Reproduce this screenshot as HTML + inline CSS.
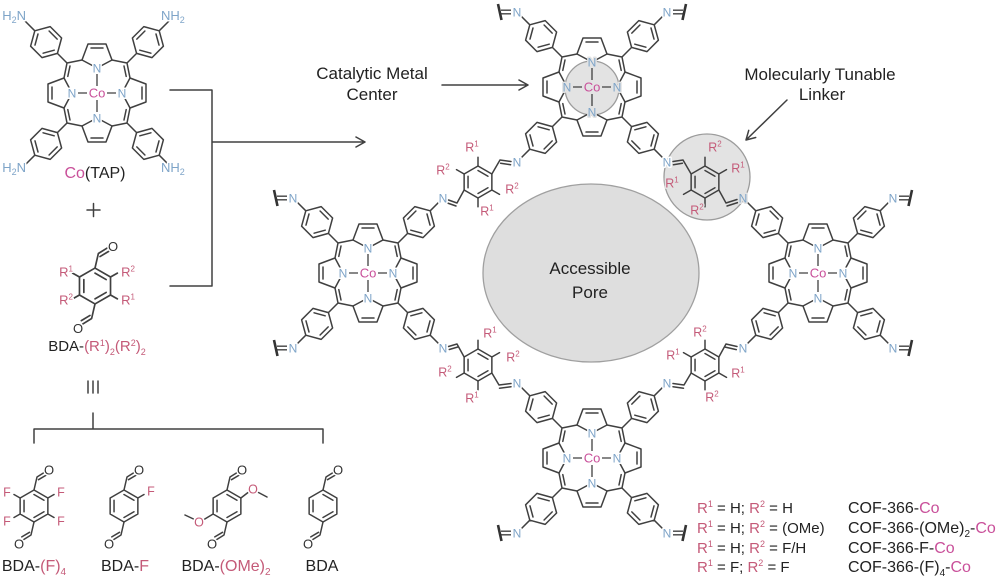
<!DOCTYPE html>
<html><head><meta charset="utf-8">
<style>
html,body{margin:0;padding:0;background:#fff;}
svg{display:block;}
text{font-family:"Liberation Sans",Arial,sans-serif;}
.b{fill:none;stroke:#404040;stroke-width:1.5;stroke-linejoin:round;stroke-linecap:round;}
.n{font-size:12px;fill:#7ea4c8;text-anchor:middle;stroke:#fff;stroke-width:3px;paint-order:stroke;stroke-linejoin:round;}
.co{font-size:13px;fill:#c9509a;text-anchor:middle;stroke:#fff;stroke-width:3px;paint-order:stroke;stroke-linejoin:round;}
.r{font-size:12.5px;fill:#c45a78;text-anchor:middle;stroke:#fff;stroke-width:3px;paint-order:stroke;stroke-linejoin:round;}
.o{font-size:13px;fill:#333;text-anchor:middle;stroke:#fff;stroke-width:3px;paint-order:stroke;stroke-linejoin:round;}
.f{font-size:12.5px;fill:#c45a78;text-anchor:middle;stroke:#fff;stroke-width:3px;paint-order:stroke;stroke-linejoin:round;}
.g{stroke:#e3e3e3;}
.t{font-size:17px;fill:#222;text-anchor:middle;}
.lb{font-size:16px;fill:#222;text-anchor:middle;}
.lg{font-size:15px;fill:#222;}
.lg2{font-size:16px;fill:#222;}
.pk{fill:#c45a78;}
.mg{fill:#c9509a;}
</style></head><body>
<svg width="1000" height="580" viewBox="0 0 1000 580" xmlns="http://www.w3.org/2000/svg">
<defs>
<g id="pyr"><path fill="none" stroke="#404040" stroke-width="1.5" stroke-linejoin="round" stroke-linecap="round" d="M0,-25 L-15,-33 L-9,-49 L9,-49 L15,-33 Z M-6,-45 L6,-45"/></g>
<g id="q"><path fill="none" stroke="#404040" stroke-width="1.5" stroke-linejoin="round" stroke-linecap="round" d="M-15,-33 L-30,-30 L-33,-15 M-27,-27 L-29.2,-16.6 M-30,-30 L-39.6,-39.6 M-62.2,-62.2 L-46.8,-66.4 L-35.4,-55 L-39.6,-39.6 L-55,-35.4 L-66.4,-46.8 Z M-47.9,-62 L-39.8,-53.9 M-42.8,-42.8 L-53.9,-39.8 M-62,-47.9 L-59,-59 M-62.2,-62.2 L-72,-72"/></g>
<g id="por">
<use href="#pyr"/><use href="#pyr" transform="rotate(90)"/><use href="#pyr" transform="rotate(180)"/><use href="#pyr" transform="rotate(270)"/>
<use href="#q"/><use href="#q" transform="scale(-1,1)"/><use href="#q" transform="scale(1,-1)"/><use href="#q" transform="scale(-1,-1)"/>
<path fill="none" stroke="#404040" stroke-width="1.3" d="M0,-19 L0,-7 M0,7 L0,19 M-19,0 L-10,0 M10,0 L19,0"/>
</g>
<g id="ring"><path fill="none" stroke="#404040" stroke-width="1.5" stroke-linejoin="round" stroke-linecap="round" d="M0,-16 L13.86,-8 L13.86,8 L0,16 L-13.86,8 L-13.86,-8 Z M0,-11.5 L9.96,-5.75 M9.96,5.75 L0,11.5 M-9.96,5.75 L-9.96,-5.75"/></g>
<g id="bda"><use href="#ring"/><path fill="none" stroke="#404040" stroke-width="1.5" stroke-linejoin="round" stroke-linecap="round" d="M0,-16 L3,-29 L11,-34 M4.5,-26.3 L12.2,-30.9 M0,16 L-3,29 L-11,34 M-4.5,26.3 L-12.2,30.9"/></g>
<g id="tl"><path fill="none" stroke="#404040" stroke-width="1.4" d="M-6,-1.8 L-16,-1.8 M-6,1.8 L-16,1.8"/><path fill="none" stroke="#333" stroke-width="2.6" d="M-19,-8 L-15.5,8"/></g>
</defs>

<!-- grey regions -->
<ellipse cx="591" cy="273" rx="108" ry="89" fill="#dedede" stroke="#a0a0a0" stroke-width="1.3"/>
<circle cx="592" cy="88" r="27" fill="#e3e3e3" stroke="#9c9c9c" stroke-width="1.3"/>
<circle cx="707" cy="177" r="43" fill="#e3e3e3" stroke="#9c9c9c" stroke-width="1.3"/>
<text class="t" x="590" y="274">Accessible</text>
<text class="t" x="590" y="298">Pore</text>

<!-- Co(TAP) -->
<use href="#por" transform="translate(97,93)"/>
<g transform="translate(97,93)">
<text class="n" x="0" y="-20.7">N</text><text class="n" x="0" y="29.3">N</text><text class="n" x="-25" y="4.3">N</text><text class="n" x="25" y="4.3">N</text><text class="co" x="0" y="4.6">Co</text>
</g>
<text class="n" x="26" y="20" style="text-anchor:end;font-size:13px">H<tspan font-size="9" dy="3">2</tspan><tspan dy="-3">N</tspan></text>
<text class="n" x="161" y="20" style="text-anchor:start;font-size:13px">NH<tspan font-size="9" dy="3">2</tspan></text>
<text class="n" x="26" y="172" style="text-anchor:end;font-size:13px">H<tspan font-size="9" dy="3">2</tspan><tspan dy="-3">N</tspan></text>
<text class="n" x="161" y="172" style="text-anchor:start;font-size:13px">NH<tspan font-size="9" dy="3">2</tspan></text>
<text class="lb" x="95" y="178"><tspan class="mg">Co</tspan>(TAP)</text>

<!-- bracket and arrows left -->
<path class="b" d="M170,90 L212,90 L212,286 L170,286 M212,142 L365,142 M356,137 L365,142 L356,147"/>
<path class="b" d="M87,210 L100,210 M93.5,203.5 L93.5,216.5"/>

<!-- BDA-(R1)2(R2)2 -->
<use href="#bda" transform="translate(95,286) scale(1.12)"/>
<path class="b" transform="translate(95,286) scale(1.12)" d="M-13.86,-8 L-20,-11.5 M13.86,-8 L20,-11.5 M-13.86,8 L-20,11.5 M13.86,8 L20,11.5"/>
<text class="o" x="113" y="251">O</text>
<text class="o" x="78" y="333">O</text>
<text class="r" x="66" y="276.5" style="font-size:13px">R<tspan font-size="8" dy="-5">1</tspan></text>
<text class="r" x="128" y="276.5" style="font-size:13px">R<tspan font-size="8" dy="-5">2</tspan></text>
<text class="r" x="66" y="304.5" style="font-size:13px">R<tspan font-size="8" dy="-5">2</tspan></text>
<text class="r" x="128" y="304.5" style="font-size:13px">R<tspan font-size="8" dy="-5">1</tspan></text>
<text class="lb" x="97" y="351" style="font-size:15px">BDA-<tspan class="pk">(R<tspan font-size="9" dy="-5">1</tspan><tspan dy="5">)</tspan><tspan font-size="9" dy="4">2</tspan><tspan dy="-4">(R</tspan><tspan font-size="9" dy="-5">2</tspan><tspan dy="5">)</tspan><tspan font-size="9" dy="4">2</tspan></tspan></text>
<path class="b" d="M88,381 L88,393 M93,381 L93,393 M98,381 L98,393"/>
<path class="b" d="M93,413 L93,429 M34,443 L34,429 L323,429 L323,443"/>

<!-- bottom BDAs -->
<use href="#bda" transform="translate(34,506)"/>
<path class="b" transform="translate(34,506)" d="M-13.86,-8 L-20,-11.5 M13.86,-8 L20,-11.5 M-13.86,8 L-20,11.5 M13.86,8 L20,11.5"/>
<text class="o" x="49" y="474.5">O</text><text class="o" x="19" y="548.5">O</text>
<text class="f" x="7" y="496.5">F</text><text class="f" x="61" y="496.5">F</text><text class="f" x="7" y="525.5">F</text><text class="f" x="61" y="525.5">F</text>
<text class="lb" x="34" y="571">BDA-<tspan class="pk">(F)</tspan><tspan class="pk" font-size="10" dy="4">4</tspan></text>

<use href="#bda" transform="translate(124,506)"/>
<path class="b" transform="translate(124,506)" d="M13.86,-8 L20,-11.5"/>
<text class="o" x="139" y="474.5">O</text><text class="o" x="109" y="548.5">O</text>
<text class="f" x="151" y="495.5">F</text>
<text class="lb" x="125" y="571">BDA-<tspan class="pk">F</tspan></text>

<use href="#bda" transform="translate(227,506)"/>
<path class="b" d="M240.9,498 L248,492.5 M258.5,492.5 L267,497 M213.1,514 L204,519.5 M193.5,519 L185,515"/>
<text class="o" x="242" y="474.5">O</text><text class="o" x="212" y="548.5">O</text>
<text class="f" x="253" y="493.5">O</text><text class="f" x="199" y="526.5">O</text>
<text class="lb" x="226" y="571">BDA-<tspan class="pk">(OMe)</tspan><tspan class="pk" font-size="10" dy="4">2</tspan></text>

<use href="#bda" transform="translate(323,506)"/>
<text class="o" x="338" y="474.5">O</text><text class="o" x="308" y="548.5">O</text>
<text class="lb" x="322" y="571">BDA</text>

<!-- annotations -->
<text class="t" x="372" y="79">Catalytic Metal</text>
<text class="t" x="372" y="100">Center</text>
<path class="b" d="M442,85 L528,85 M519,80 L528,85 L519,90"/>
<text class="t" x="820" y="80">Molecularly Tunable</text>
<text class="t" x="822" y="100">Linker</text>
<path class="b" d="M787,100 L746,140 M755.7,137.5 L746,140 L748.7,130.4"/>

<!-- Framework porphyrins -->
<use href="#por" transform="translate(592,87)"/>
<g transform="translate(592,87)">
<text class="n g" x="0" y="-20.7">N</text><text class="n g" x="0" y="29.3">N</text><text class="n g" x="-25" y="4.3">N</text><text class="n g" x="25" y="4.3">N</text><text class="co g" x="0" y="4.6">Co</text>
</g>
<use href="#por" transform="translate(368,273)"/>
<g transform="translate(368,273)">
<text class="n" x="0" y="-20.7">N</text><text class="n" x="0" y="29.3">N</text><text class="n" x="-25" y="4.3">N</text><text class="n" x="25" y="4.3">N</text><text class="co" x="0" y="4.6">Co</text>
</g>
<use href="#por" transform="translate(818,273)"/>
<g transform="translate(818,273)">
<text class="n" x="0" y="-20.7">N</text><text class="n" x="0" y="29.3">N</text><text class="n" x="-25" y="4.3">N</text><text class="n" x="25" y="4.3">N</text><text class="co" x="0" y="4.6">Co</text>
</g>
<use href="#por" transform="translate(592,458)"/>
<g transform="translate(592,458)">
<text class="n" x="0" y="-20.7">N</text><text class="n" x="0" y="29.3">N</text><text class="n" x="-25" y="4.3">N</text><text class="n" x="25" y="4.3">N</text><text class="co" x="0" y="4.6">Co</text>
</g>

<!-- terminals -->
<use href="#tl" transform="translate(517,12)"/>
<use href="#tl" transform="translate(667,12) scale(-1,1)"/>
<use href="#tl" transform="translate(293,198)"/>
<use href="#tl" transform="translate(293,348)"/>
<use href="#tl" transform="translate(893,198) scale(-1,1)"/>
<use href="#tl" transform="translate(893,348) scale(-1,1)"/>
<use href="#tl" transform="translate(517,533)"/>
<use href="#tl" transform="translate(667,533) scale(-1,1)"/>

<!-- Linker L1 -->
<g transform="translate(478,182)">
<use href="#ring"/>
<path class="b" d="M0,-16 L0,-24.8 M-13.86,-8 L-21.5,-12.4 M13.86,8 L21.5,12.4 M0,16 L0,24.8 M13.86,-8 L22,-22 M22,-22 L33,-20.5 M22.6,-18.8 L32.6,-17.3 M-13.86,8 L-21,21 M-21,21 L-29.5,18 M-22,24 L-30.6,21"/>
<text class="r" x="-6" y="-30.5">R<tspan font-size="8" dy="-5">1</tspan></text>
<text class="r" x="-35" y="-7.5">R<tspan font-size="8" dy="-5">2</tspan></text>
<text class="r" x="34" y="11.5">R<tspan font-size="8" dy="-5">2</tspan></text>
<text class="r" x="9" y="33.5">R<tspan font-size="8" dy="-5">1</tspan></text>
</g>
<!-- Linker L2 -->
<g transform="translate(705,182)">
<use href="#ring"/>
<path class="b" d="M0,-16 L0,-24.8 M13.86,-8 L21.5,-12.4 M-13.86,8 L-21.5,12.4 M0,16 L0,24.8 M-13.86,-8 L-22,-22 M-22,-22 L-32,-20.5 M-22.6,-18.8 L-31.6,-17.3 M13.86,8 L21,21 M21,21 L32,17.5 M22,24 L32.6,20.6"/>
<text class="r g" x="10" y="-30.5">R<tspan font-size="8" dy="-5">2</tspan></text>
<text class="r g" x="33" y="-9.5">R<tspan font-size="8" dy="-5">1</tspan></text>
<text class="r g" x="-33" y="5.5">R<tspan font-size="8" dy="-5">1</tspan></text>
<text class="r g" x="-8" y="32.5">R<tspan font-size="8" dy="-5">2</tspan></text>
</g>
<!-- Linker L3 -->
<g transform="translate(478,365)">
<use href="#ring"/>
<path class="b" d="M0,-16 L0,-24.8 M13.86,-8 L21.5,-12.4 M-13.86,8 L-21.5,12.4 M0,16 L0,24.8 M-13.86,-8 L-21,-21 M-21,-21 L-29.5,-18.5 M-20.2,-18 L-28.7,-15.5 M13.86,8 L21,20 M21,20 L33,18.5 M21.5,23.2 L33,21.7"/>
<text class="r" x="12" y="-27.5">R<tspan font-size="8" dy="-5">1</tspan></text>
<text class="r" x="35" y="-3.5">R<tspan font-size="8" dy="-5">2</tspan></text>
<text class="r" x="-33" y="11.5">R<tspan font-size="8" dy="-5">2</tspan></text>
<text class="r" x="-6" y="37.5">R<tspan font-size="8" dy="-5">1</tspan></text>
</g>
<!-- Linker L4 -->
<g transform="translate(705,365)">
<use href="#ring"/>
<path class="b" d="M0,-16 L0,-24.8 M-13.86,-8 L-21.5,-12.4 M13.86,8 L21.5,12.4 M0,16 L0,24.8 M13.86,-8 L21,-21 M21,-21 L32,-18.5 M20.3,-17.9 L31.3,-15.4 M-13.86,8 L-21,20 M-21,20 L-32,18.5 M-21.5,23.2 L-32,21.7"/>
<text class="r" x="-5" y="-28.5">R<tspan font-size="8" dy="-5">2</tspan></text>
<text class="r" x="-32" y="-5.5">R<tspan font-size="8" dy="-5">1</tspan></text>
<text class="r" x="33" y="12.5">R<tspan font-size="8" dy="-5">1</tspan></text>
<text class="r" x="7" y="36.5">R<tspan font-size="8" dy="-5">2</tspan></text>
</g>

<!-- para N labels -->
<text class="n" x="517" y="16.3">N</text><text class="n" x="667" y="16.3">N</text>
<text class="n" x="517" y="166.3">N</text><text class="n" x="667" y="166.3">N</text>
<text class="n" x="293" y="202.3">N</text><text class="n" x="443" y="202.3">N</text>
<text class="n" x="293" y="352.3">N</text><text class="n" x="443" y="352.3">N</text>
<text class="n" x="893" y="202.3">N</text><text class="n g" x="743" y="202.3">N</text>
<text class="n" x="893" y="352.3">N</text><text class="n" x="743" y="352.3">N</text>
<text class="n" x="517" y="387.3">N</text><text class="n" x="667" y="387.3">N</text>
<text class="n" x="517" y="537.3">N</text><text class="n" x="667" y="537.3">N</text>

<!-- legend -->
<text class="lg" x="697" y="513"><tspan class="pk">R<tspan font-size="9" dy="-6">1</tspan></tspan><tspan dy="6"> = H; </tspan><tspan class="pk">R<tspan font-size="9" dy="-6">2</tspan></tspan><tspan dy="6"> = H</tspan></text>
<text class="lg" x="697" y="533"><tspan class="pk">R<tspan font-size="9" dy="-6">1</tspan></tspan><tspan dy="6"> = H; </tspan><tspan class="pk">R<tspan font-size="9" dy="-6">2</tspan></tspan><tspan dy="6"> = (OMe)</tspan></text>
<text class="lg" x="697" y="553"><tspan class="pk">R<tspan font-size="9" dy="-6">1</tspan></tspan><tspan dy="6"> = H; </tspan><tspan class="pk">R<tspan font-size="9" dy="-6">2</tspan></tspan><tspan dy="6"> = F/H</tspan></text>
<text class="lg" x="697" y="572"><tspan class="pk">R<tspan font-size="9" dy="-6">1</tspan></tspan><tspan dy="6"> = F; </tspan><tspan class="pk">R<tspan font-size="9" dy="-6">2</tspan></tspan><tspan dy="6"> = F</tspan></text>
<text class="lg2" x="848" y="513">COF-366-<tspan class="mg">Co</tspan></text>
<text class="lg2" x="848" y="533">COF-366-(OMe)<tspan font-size="10" dy="4">2</tspan><tspan dy="-4">-</tspan><tspan class="mg">Co</tspan></text>
<text class="lg2" x="848" y="553">COF-366-F-<tspan class="mg">Co</tspan></text>
<text class="lg2" x="848" y="572">COF-366-(F)<tspan font-size="10" dy="4">4</tspan><tspan dy="-4">-</tspan><tspan class="mg">Co</tspan></text>
</svg>
</body></html>
